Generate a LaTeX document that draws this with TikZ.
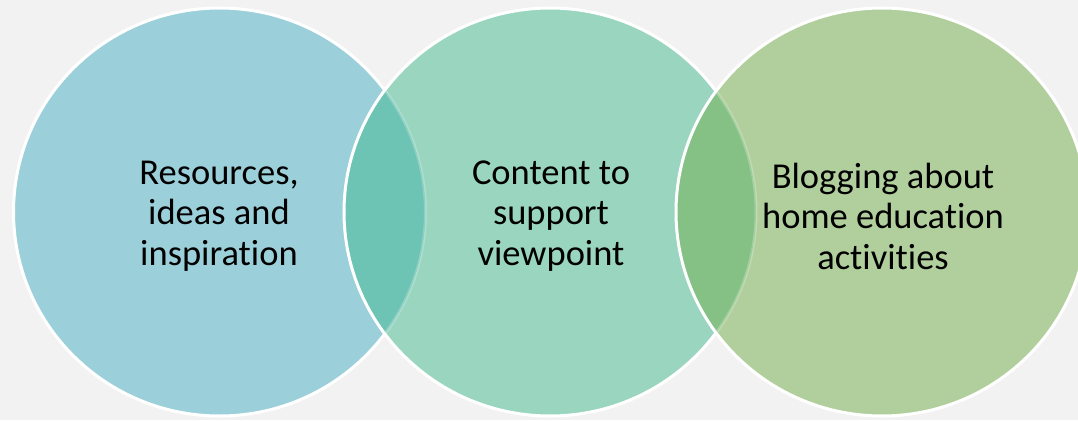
\documentclass[tikz,border=0pt]{standalone}
\usepackage{fontspec}
\setmainfont{Carlito}[Ligatures={NoCommon}]
\definecolor{bg}{HTML}{F2F2F2}
\definecolor{cA}{HTML}{9BD0DA}
\definecolor{cB}{HTML}{9AD5C0}
\definecolor{cC}{HTML}{B1CF9D}
\definecolor{lAB}{HTML}{6EC4B4}
\definecolor{lBC}{HTML}{85C185}
\tikzset{
  rim/.style={draw=white, line width=3pt},
  faintrim/.style={draw=white, draw opacity=0.22, line width=3pt},
  label/.style={align=center, font=\fontsize{36.5}{40.5}\selectfont, text=black, inner sep=0pt}
}
\begin{document}
\begin{tikzpicture}[x=1pt,y=-1pt]
\fill[bg] (0,0) rectangle (1078,420);
\useasboundingbox (0,0) rectangle (1078,420);
\def\RX{206}
\def\RY{204}
\def\CA{(219.5,212)}
\def\CB{(550,212)}
\def\CC{(882,212)}
% circle 1
\fill[cA] \CA ellipse [x radius=\RX, y radius=\RY];
\path[rim] \CA ellipse [x radius=\RX, y radius=\RY];
% circle 2
\fill[cB] \CB ellipse [x radius=\RX, y radius=\RY];
\begin{scope}
  \clip \CA ellipse [x radius=\RX, y radius=\RY];
  \fill[lAB] \CB ellipse [x radius=\RX, y radius=\RY];
\end{scope}
\begin{scope}
  \clip \CB ellipse [x radius=\RX, y radius=\RY];
  \path[faintrim] \CA ellipse [x radius=\RX, y radius=\RY];
\end{scope}
\path[rim] \CB ellipse [x radius=\RX, y radius=\RY];
% circle 3
\fill[cC] \CC ellipse [x radius=\RX, y radius=\RY];
\begin{scope}
  \clip \CB ellipse [x radius=\RX, y radius=\RY];
  \fill[lBC] \CC ellipse [x radius=\RX, y radius=\RY];
\end{scope}
\begin{scope}
  \clip \CC ellipse [x radius=\RX, y radius=\RY];
  \path[faintrim] \CB ellipse [x radius=\RX, y radius=\RY];
\end{scope}
\path[rim] \CC ellipse [x radius=\RX, y radius=\RY];
% labels
\node[label] (t1) at (219,216) {Resources,\\ideas and\\inspiration};
\node[label] (t2) at (551,216) {Content to\\support\\viewpoint};
\node[label] (t3) at (883,216) {Blogging about\\home education\\activities};
\end{tikzpicture}
\end{document}
